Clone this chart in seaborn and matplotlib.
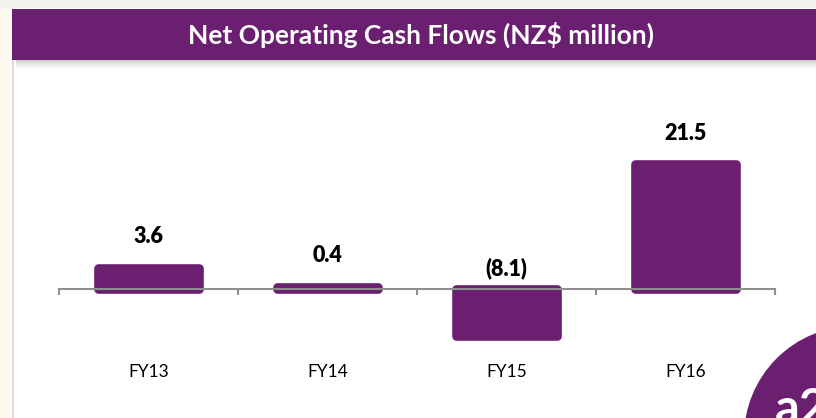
import matplotlib
matplotlib.use('Agg')
import matplotlib.pyplot as plt
from matplotlib.patches import Rectangle, Ellipse
import seaborn as sns
import pandas as pd

# Data
years = ['FY13', 'FY14', 'FY15', 'FY16']
cash_flows = [3.6, 0.4, -8.1, 21.5]
labels = ['3.6', '0.4', '(8.1)', '21.5']

purple = '#6B1F71'
W, H = 816, 418

sns.set_theme(style='white')
plt.rcParams['font.family'] = ['Lato', 'DejaVu Sans']

fig = plt.figure(figsize=(W / 100, H / 100), dpi=100, facecolor='#FFFAEF')

# page background: white panel, grey border, purple header with a soft shadow
fig.patches.append(Rectangle((12 / W, 0), 1, (H - 8) / H, transform=fig.transFigure,
                             facecolor='white', edgecolor='none', zorder=0))
fig.patches.append(Rectangle((12 / W, 0), 2 / W, (H - 60) / H, transform=fig.transFigure,
                             facecolor='#DDDDDD', edgecolor='none', zorder=0))
fig.patches.append(Rectangle((0, (H - 8) / H), 1, 8 / H, transform=fig.transFigure,
                             facecolor='#F4F2EC', edgecolor='none', zorder=0))
for k in range(8):
    fig.patches.append(Rectangle((16 / W, (H - 61 - k) / H), 1, 1 / H, transform=fig.transFigure,
                                 facecolor='#888888', alpha=0.4 * (1 - k / 8),
                                 edgecolor='none', zorder=0))
fig.patches.append(Rectangle((12 / W, (H - 60) / H), 1, 51 / H, transform=fig.transFigure,
                             facecolor=purple, edgecolor='none', zorder=1))
fig.text(421 / W, (H - 35) / H, 'Net Operating Cash Flows (NZ$ million)', color='white',
         fontsize=19, fontweight='bold', ha='center', va='center', zorder=2)

# logo corner
fig.patches.append(Ellipse((855 / W, (H - 437) / H), 222 / W, 222 / H, transform=fig.transFigure,
                           facecolor=purple, edgecolor='none', zorder=1))
fig.text(775 / W, (H - 424) / H, 'a2', color='white', fontsize=35, fontweight='bold',
         ha='left', va='baseline', zorder=2)

# chart area
scale = 5.8  # px per unit
ylo, yhi = -14, 26
zero_px = 289
ax_bottom = (H - (zero_px - ylo * scale)) / H
ax_height = (yhi - ylo) * scale / H
ax = fig.add_axes([59 / W, ax_bottom, (775 - 59) / W, ax_height])
ax.set_zorder(3)
ax.patch.set_visible(False)

df = pd.DataFrame({'year': years, 'value': cash_flows})
sns.barplot(data=df, x='year', y='value', color=purple, saturation=1, width=0.56,
            linewidth=6.2, edgecolor=purple, ax=ax)
for p in ax.patches:
    p.set_joinstyle('round')

ax.set_xlim(-0.5, 3.5)
ax.set_ylim(ylo, yhi)
ax.set_xlabel('')
ax.set_ylabel('')
ax.set_yticks([])

for s in ['left', 'right', 'top']:
    ax.spines[s].set_visible(False)
ax.spines['bottom'].set_position(('data', 0))
ax.spines['bottom'].set_color('#8E8E8E')
ax.spines['bottom'].set_linewidth(1.5)
ax.spines['bottom'].set_zorder(5)

ax.set_xticks(range(len(years)))
ax.set_xticklabels(years)
ax.set_xticks([i - 0.5 for i in range(len(years) + 1)], minor=True)
ax.tick_params(axis='x', which='major', length=0, pad=60, labelsize=12.5, labelcolor='black')
ax.tick_params(axis='x', which='minor', bottom=True, direction='out', length=4.5,
               width=1.5, color='#8E8E8E')
for t in ax.get_xticklabels():
    t.set_va('center')

for i, (v, lab) in enumerate(zip(cash_flows, labels)):
    off = 22.5 if v > 0 else 15
    ax.annotate(lab, xy=(i, max(v, 0)), xytext=(0, off), textcoords='offset points',
                ha='center', va='center', fontsize=15.5, fontweight='heavy', color='black')

fig.savefig('out.png', dpi=100, facecolor=fig.get_facecolor())
